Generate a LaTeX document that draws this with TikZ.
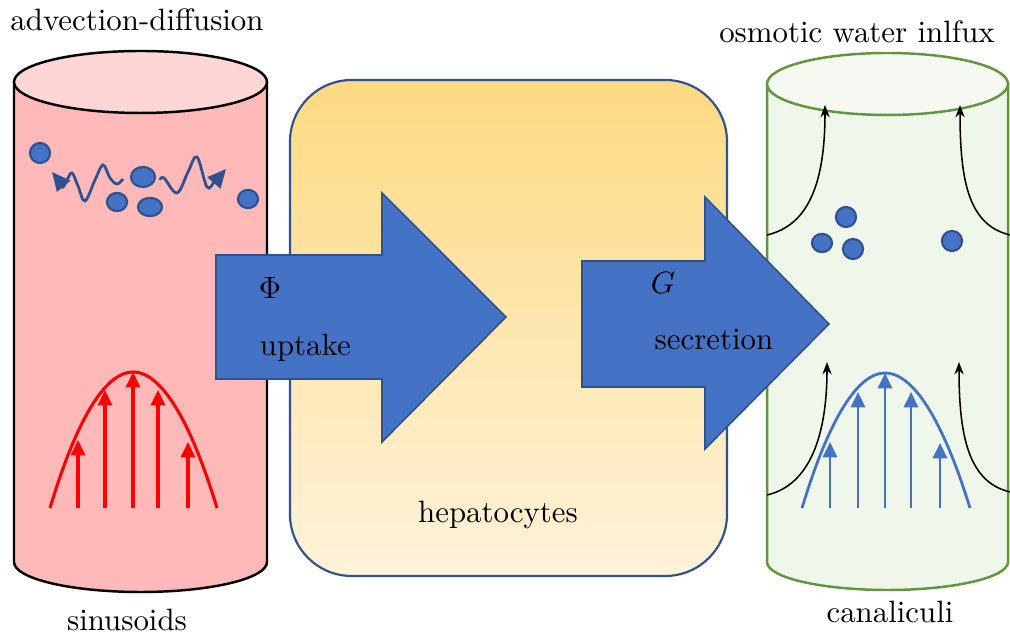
\documentclass[tikz,border=0pt]{standalone}
\usetikzlibrary{arrows.meta, positioning, shapes.geometric}
\usepackage{xcolor}
\definecolor{sinred}{HTML}{FFB9B9}
\definecolor{sintop}{HTML}{FFD6D6}
\definecolor{canfill}{HTML}{EFF6EA}
\definecolor{cantop}{HTML}{F5F9F2}
\definecolor{cangreen}{HTML}{62963E}
\definecolor{flowblue}{HTML}{4472C4}
\definecolor{edgeblue}{HTML}{2F528F}
\definecolor{hepyellow}{HTML}{FDDA82}
\definecolor{heplight}{HTML}{FEF2DA}

\begin{document}
\begin{tikzpicture}[x=0.324pt,y=-0.324pt]
    \tikzstyle{sinwall}=[draw=black, fill=sinred, line width=0.8pt]
    \tikzstyle{canwall}=[draw=cangreen, fill=canfill, line width=0.8pt]
    \tikzstyle{hepbox}=[draw=edgeblue, line width=0.7pt, rounded corners=20pt, top color=hepyellow, bottom color=heplight, minimum width=141.6pt, minimum height=160.7pt]
    \tikzstyle{molecule}=[ellipse, fill=flowblue, draw=edgeblue, line width=0.7pt, inner sep=0pt]
    \tikzstyle{wiggle}=[draw=edgeblue, line width=0.9pt]
    \tikzstyle{redflow}=[red, line width=1pt]
    \tikzstyle{blueflow}=[flowblue, line width=0.9pt]
    \tikzstyle{water}=[black, line width=0.5pt, -{Stealth[length=4pt,width=3pt]}]
    \tikzstyle{blockarrow}=[fill=flowblue, draw=edgeblue, line width=0.5pt]

    \useasboundingbox (0,0) rectangle (1010,635);

    % sinusoids
    \filldraw[sinwall] (14,82) -- (14,562) arc[start angle=180, end angle=0, x radius=126.5, y radius=30] -- (267,82) -- cycle;
    \filldraw[sinwall, fill=sintop] (140.5,82) ellipse[x radius=126.5, y radius=31];

    % canaliculi
    \filldraw[canwall] (767,84) -- (767,562) arc[start angle=180, end angle=0, x radius=120.5, y radius=28] -- (1008,84) -- cycle;
    \filldraw[canwall, fill=cantop] (887.5,84) ellipse[x radius=120.5, y radius=31];

    % hepatocytes
    \node[hepbox] (hep) at (508.5,328) {};

    % molecules
    \foreach \x/\y/\w/\h [count=\i] in {40/153/6.5/6.5, 143/177/7.8/6.5, 117/202/6.5/5.9, 150/207/7.8/5.9, 248/199/6.5/5.9,
        846/217/6.5/6.5, 822/243/6.5/5.9, 853/249/6.5/6.5, 952/241/6.5/6.5}{
        \node[molecule, minimum width=\w pt, minimum height=\h pt] (M-\i) at (\x,\y) {};
        }

    % diffusion
    \draw[wiggle, {Triangle[length=6pt,width=5.5pt]}-] plot[smooth, tension=0.6] coordinates {(52,172) (60,182) (63,187) (67,180) (72,173) (78,186) (85,201) (95,180) (103,165) (110,178) (117,184) (123,179)};
    \draw[wiggle, -{Triangle[length=6pt,width=5.5pt]}] plot[smooth, tension=0.6] coordinates {(160,180) (164,178) (177,193) (188,172) (197,157) (207,187) (215,181) (226,169)};

    % velocity profiles
    \draw[redflow] (50,508) parabola bend (133,372) (217,508);
    \foreach \x/\t in {78/440, 105/390, 133/372, 158/390, 188/442}{
        \draw[redflow, -{Triangle[length=5pt,width=4.6pt]}] (\x,508) -- (\x,\t);
        }
    \draw[blueflow] (802,508) parabola bend (885,373) (970,508);
    \foreach \x/\t in {830/442, 858/392, 885/373, 911/392, 940/443}{
        \draw[blueflow, -{Triangle[length=5pt,width=4.6pt]}] (\x,508) -- (\x,\t);
        }

    % water influx
    \coordinate (WL-1) at (767,235);
    \coordinate (TL-1) at (825,105);
    \coordinate (WR-1) at (1010,235);
    \coordinate (TR-1) at (960,105);
    \coordinate (WL-2) at (767,495);
    \coordinate (TL-2) at (827,362);
    \coordinate (WR-2) at (1010,492);
    \coordinate (TR-2) at (959,362);
    \draw[water] (WL-1) .. controls (810,225) and (825,180) .. (TL-1);
    \draw[water] (WR-1) .. controls (968,225) and (960,180) .. (TR-1);
    \draw[water] (WL-2) .. controls (810,485) and (827,435) .. (TL-2);
    \draw[water] (WR-2) .. controls (968,482) and (959,435) .. (TR-2);

    % uptake and secretion
    \filldraw[blockarrow] (216,255) -- (382,255) -- (382,193) -- (506,317) -- (382,442) -- (382,379) -- (216,379) -- cycle;
    \filldraw[blockarrow] (582,261) -- (705,261) -- (705,197) -- (829,324) -- (705,449) -- (705,387) -- (582,387) -- cycle;

    \node (phi) at (270,288) {$\Phi$};
    \node[anchor=west] (up) at (249,348) {uptake};
    \node (G) at (663,283) {$G$};
    \node (sec) at (714,340) {secretion};

    \node (hepl) at (498,515) {hepatocytes};
    \node (adv) at (137,20) {advection-diffusion};
    \node (sin) at (127,620) {sinusoids};
    \node (osm) at (857,32) {osmotic water inlfux};
    \node (can) at (890,612) {canaliculi};
\end{tikzpicture}
\end{document}
